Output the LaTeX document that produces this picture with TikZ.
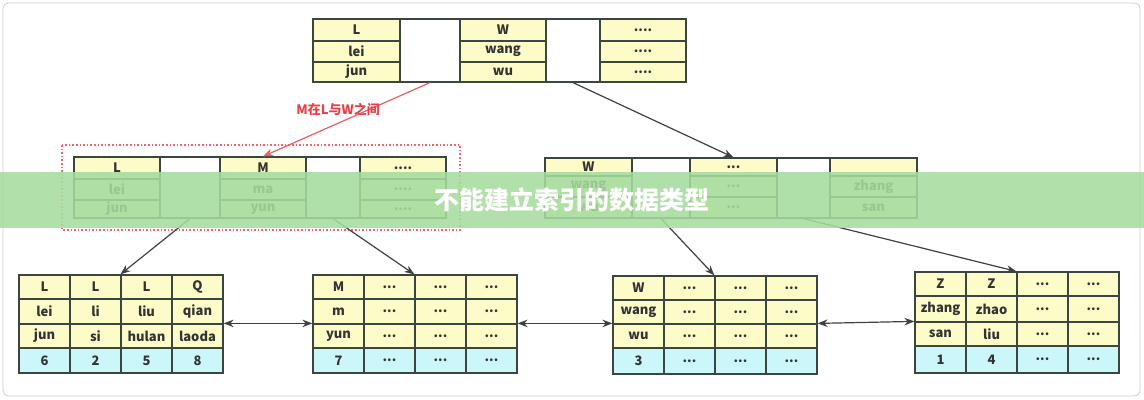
\documentclass[tikz,border=0pt]{standalone}
\usepackage{fontspec}
\setmainfont{Noto Sans CJK SC}
\usetikzlibrary{arrows.meta}
\definecolor{keyfill}{HTML}{FDFBC8}
\definecolor{rowfill}{HTML}{CCF7FA}
\definecolor{edgegray}{HTML}{3C4640}
\definecolor{notered}{HTML}{E8404A}
\definecolor{bandgreen}{HTML}{A6DC9E}
\newcommand{\dfour}{....}
\newcommand{\dthree}{...}
\newcommand{\cellat}[7][]{%
  \node[cell,#1,minimum width={((#5)-(#3))*0.5pt},minimum height={((#6)-(#4))*0.5pt}]
    (#2) at ({((#3)+(#5))/2},{((#4)+(#6))/2}) {#7};}

\begin{document}
\begin{tikzpicture}[x=0.5pt,y=-0.5pt,
    cell/.style={draw=edgegray,fill=keyfill,inner sep=0pt,line width=0.6pt,
      font=\fontsize{6.5}{7}\selectfont\bfseries,text=black!80},
    ptr/.style={fill=white},
    val/.style={fill=rowfill},
    link/.style={draw=black!75,line width=0.6pt,-{Stealth[length=5pt]}},
    both/.style={draw=black!75,line width=0.6pt,{Stealth[length=5pt]}-{Stealth[length=5pt]}}]
    \useasboundingbox (0,0) rectangle (1144,400);
    \draw[black!20,rounded corners=3pt] (3,3) rectangle (1140,396);

    % root
    \foreach \r/\ya/\yb/\ta/\tb in {1/19/41/L/W,2/41/62/lei/wang,3/62/82/jun/wu} {
      \cellat{r-1-\r}{313}{\ya}{400}{\yb}{\ta}
      \cellat{r-3-\r}{460}{\ya}{546}{\yb}{\tb}
      \cellat{r-5-\r}{600}{\ya}{686}{\yb}{\dfour}
    }
    \cellat[ptr]{r-2}{400}{19}{460}{82}{}
    \cellat[ptr]{r-4}{546}{19}{600}{82}{}

    % inner left
    \draw[notered!80,densely dotted,line width=0.8pt] (62,145) rectangle (460,230);
    \foreach \r/\ya/\yb/\ta/\tb in {1/157/179/L/M,2/179/200/lei/ma,3/200/218/jun/yun} {
      \cellat{a-1-\r}{74}{\ya}{160}{\yb}{\ta}
      \cellat{a-3-\r}{220}{\ya}{306}{\yb}{\tb}
      \cellat{a-5-\r}{360}{\ya}{446}{\yb}{\dfour}
    }
    \cellat[ptr]{a-2}{160}{157}{220}{218}{}
    \cellat[ptr]{a-4}{306}{157}{360}{218}{}

    % inner right
    \foreach \r/\ya/\yb/\ta/\tc in {1/158/176/W/{},2/176/197/wang/zhang,3/197/218/wu/san} {
      \cellat{b-1-\r}{545}{\ya}{632}{\yb}{\ta}
      \cellat{b-3-\r}{690}{\ya}{777}{\yb}{\dthree}
      \cellat{b-5-\r}{830}{\ya}{917}{\yb}{\tc}
    }
    \cellat[ptr]{b-2}{632}{158}{690}{218}{}
    \cellat[ptr]{b-4}{777}{158}{830}{218}{}

    % leaves
    \foreach \c/\ta/\tb/\tc/\td in {1/L/lei/jun/6,2/L/li/si/2,3/L/liu/hulan/5,4/Q/qian/laoda/8} {
      \cellat{p-\c-1}{19+51*(\c-1)}{275}{19+51*\c}{299}{\ta}
      \cellat{p-\c-2}{19+51*(\c-1)}{299}{19+51*\c}{324}{\tb}
      \cellat{p-\c-3}{19+51*(\c-1)}{324}{19+51*\c}{348}{\tc}
      \cellat[val]{p-\c-4}{19+51*(\c-1)}{348}{19+51*\c}{373}{\td}
    }
    \foreach \c/\ta/\tb/\tc/\td in {1/M/m/yun/7,2/\dthree/\dthree/\dthree/\dthree,3/\dthree/\dthree/\dthree/\dthree,4/\dthree/\dthree/\dthree/\dthree} {
      \cellat{q-\c-1}{313+51*(\c-1)}{275}{313+51*\c}{299}{\ta}
      \cellat{q-\c-2}{313+51*(\c-1)}{299}{313+51*\c}{324}{\tb}
      \cellat{q-\c-3}{313+51*(\c-1)}{324}{313+51*\c}{348}{\tc}
      \cellat[val]{q-\c-4}{313+51*(\c-1)}{348}{313+51*\c}{373}{\td}
    }
    \foreach \c/\ta/\tb/\tc/\td in {1/W/wang/wu/3,2/\dthree/\dthree/\dthree/\dthree,3/\dthree/\dthree/\dthree/\dthree,4/\dthree/\dthree/\dthree/\dthree} {
      \cellat{s-\c-1}{613+51*(\c-1)}{276}{613+51*\c}{300}{\ta}
      \cellat{s-\c-2}{613+51*(\c-1)}{300}{613+51*\c}{324}{\tb}
      \cellat{s-\c-3}{613+51*(\c-1)}{324}{613+51*\c}{348}{\tc}
      \cellat[val]{s-\c-4}{613+51*(\c-1)}{348}{613+51*\c}{374}{\td}
    }
    \foreach \c/\ta/\tb/\tc/\td in {1/Z/zhang/san/1,2/Z/zhao/liu/4,3/\dthree/\dthree/\dthree/\dthree,4/\dthree/\dthree/\dthree/\dthree} {
      \cellat{t-\c-1}{915+51*(\c-1)}{272}{915+51*\c}{296}{\ta}
      \cellat{t-\c-2}{915+51*(\c-1)}{296}{915+51*\c}{322}{\tb}
      \cellat{t-\c-3}{915+51*(\c-1)}{322}{915+51*\c}{346}{\tc}
      \cellat[val]{t-\c-4}{915+51*(\c-1)}{346}{915+51*\c}{373}{\td}
    }

    % links
    \draw[link,draw=notered!85] (r-2.south) -- (a-3-1.north)
      node[pos=0.55,above,text=notered,font=\fontsize{6.5}{7}\selectfont\bfseries] (note) {M在L与W之间};
    \draw[link] (r-4.south) -- (b-3-1.north);
    \draw[link] (a-2.south) -- (p-3-1.north west);
    \draw[link] (a-4.south) -- (q-3-1.north west);
    \draw[link] (b-2.south) -- (s-3-1.north west);
    \draw[link] (b-4.south) -- (t-3-1.north west);
    \draw[both] (p-4-3.north east) -- (q-1-3.north west);
    \draw[both] (q-4-3.north east) -- (s-1-3.north west);
    \draw[both] (s-4-3.north east) -- (t-1-3.north west);

    % banner
    \fill[bandgreen,opacity=0.88] (0,172) rectangle (1144,228);
    \node[text=white,font=\fontsize{12.5}{14}\selectfont\bfseries] (title) at (572,200) {不能建立索引的数据类型};
\end{tikzpicture}
\end{document}
